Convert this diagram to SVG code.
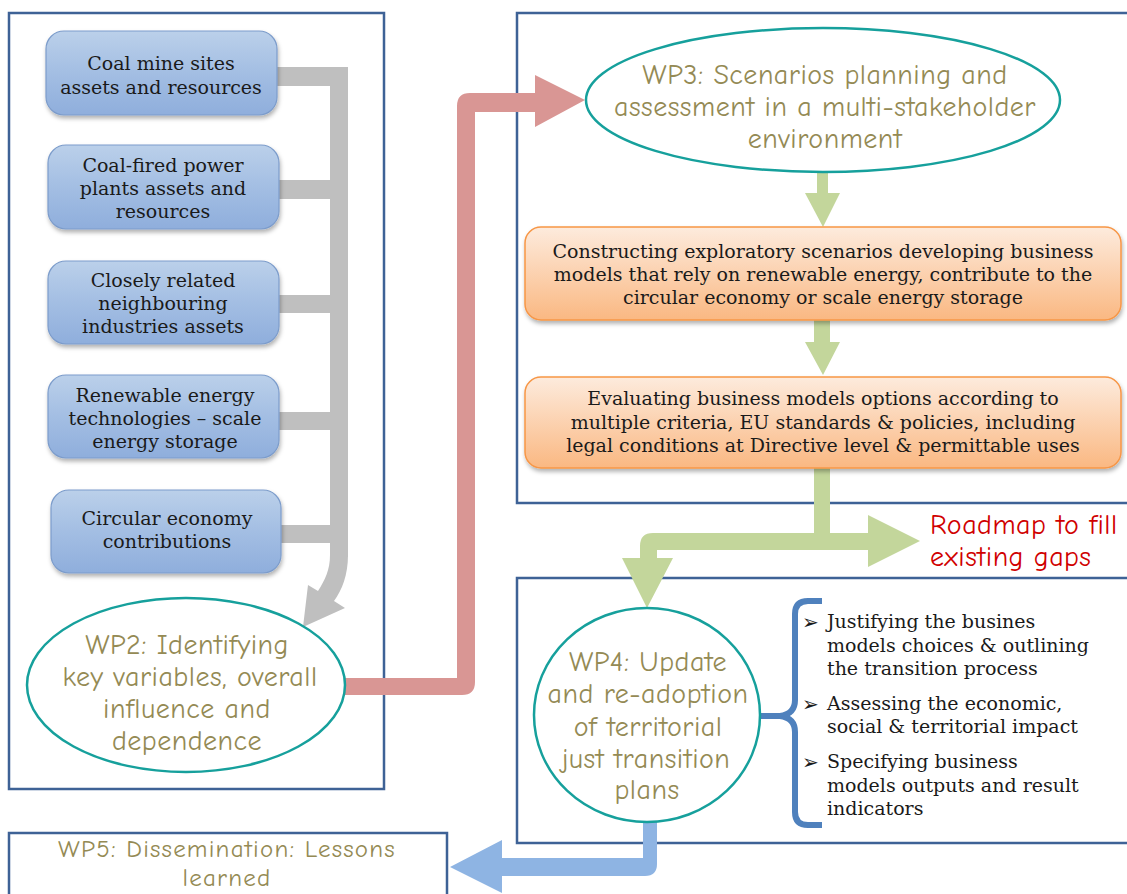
<svg xmlns="http://www.w3.org/2000/svg" width="1127" height="894" viewBox="0 0 1127 894">
<style>
.frame{fill:none;stroke:#3E6296;stroke-width:2.5}
.bbox{fill:url(#gBlue);stroke:#7C9CCB;stroke-width:1.2;filter:url(#sh)}
.obox{fill:url(#gOrange);stroke:#F79646;stroke-width:1.5;filter:url(#sh)}
.ell{fill:#fff;stroke:#16A09C;stroke-width:2.5}
.st{font-family:"DejaVu Serif","Liberation Serif",serif;font-size:19px;fill:#1a1a1a;text-anchor:middle}
.bt{font-family:"DejaVu Serif","Liberation Serif",serif;font-size:19px;fill:#1a1a1a}
.wp{font-family:"Comic Sans MS","Comic Neue","Open Sans",sans-serif;font-size:28px;letter-spacing:0.5px;fill:#948A54;text-anchor:middle}
.wp5{font-family:"Comic Sans MS","Comic Neue","Open Sans",sans-serif;font-size:25px;letter-spacing:1.2px;fill:#948A54;text-anchor:middle}
.rm{font-family:"Comic Sans MS","Comic Neue","Open Sans",sans-serif;font-size:28px;letter-spacing:0.5px;fill:#D00000}
.arr{font-family:"DejaVu Sans",sans-serif;font-size:20px;fill:#1a1a1a}
</style>
<defs>
<linearGradient id="gBlue" x1="0" y1="0" x2="0" y2="1">
<stop offset="0" stop-color="#BBD0EA"/><stop offset="0.5" stop-color="#A3BEE3"/><stop offset="1" stop-color="#8FAEDC"/>
</linearGradient>
<linearGradient id="gOrange" x1="0" y1="0" x2="0" y2="1">
<stop offset="0" stop-color="#FDEBDD"/><stop offset="1" stop-color="#FAB882"/>
</linearGradient>
<filter id="sh" x="-10%" y="-10%" width="120%" height="130%">
<feDropShadow dx="1" dy="3" stdDeviation="2" flood-color="#000" flood-opacity="0.3"/>
</filter>
</defs>

<g id="containers">
<rect class="frame" x="9" y="13" width="375" height="776"/>
<rect class="frame" x="517" y="13" width="620" height="490"/>
<rect class="frame" x="517" y="578" width="620" height="265"/>
</g>

<g id="connectors">
<g id="gray-merge" fill="#BFBFBF">
<rect x="277" y="67" width="71" height="19"/>
<rect x="279" y="180" width="55" height="19"/>
<rect x="279" y="295" width="55" height="18"/>
<rect x="279" y="412" width="55" height="18"/>
<rect x="281" y="525" width="53" height="18"/>
<rect x="330" y="67" width="18" height="490"/>
<path d="M330,555 L348,555 C348,575 342,590 334,601 L345,608 L303,627 L308,585 L318,591 C325,580 330,570 330,555 Z"/>
</g>
<path id="red-arrow" fill="#D99694" d="M345,678 L457,678 L457,106 Q457,93 470,93 L535,93 L535,75 L585,100 L535,127 L535,112 L475,112 L475,682 Q475,695 462,695 L345,695 Z"/>
<path id="green-1" fill="#C3D69B" d="M817,172 L828,172 L828,193 L840,193 L823,227 L805,193 L817,193 Z"/>
<path id="green-2" fill="#C3D69B" d="M814,320 L830,320 L830,342 L840,342 L823,375 L805,342 L814,342 Z"/>
<path id="green-3" fill="#C3D69B" d="M814,468 L830,468 L830,533 L868,533 L868,515 L920,541 L868,567 L868,550 L657,550 L657,558 L673,558 L647,608 L622,558 L640,558 L640,546 Q640,533 653,533 L814,533 Z"/>
<path id="blue-arrow" fill="#8EB4E3" d="M643,820 L657,820 L657,864 Q657,876 645,876 L502,876 L502,893 L450,867 L502,840 L502,858 L643,858 Z"/>
<path id="brace" fill="none" stroke="#4F81BD" stroke-width="6" d="M822,601 L808,601 Q795,601 795,614 L795,700 Q795,714 780,716 L760,716 M780,716 Q795,718 795,732 L795,812 Q795,825 808,825 L822,825"/>
</g>

<g id="n1"><rect class="bbox" x="46" y="31" width="231" height="84" rx="18"/>
<text class="st" x="161" y="70">Coal mine sites</text><text class="st" x="161" y="94">assets and resources</text></g>
<g id="n2"><rect class="bbox" x="48" y="145" width="231" height="84" rx="18"/>
<text class="st" x="163" y="172">Coal-fired power</text><text class="st" x="163" y="195">plants assets and</text><text class="st" x="163" y="218">resources</text></g>
<g id="n3"><rect class="bbox" x="48" y="261" width="231" height="83" rx="18"/>
<text class="st" x="163" y="287">Closely related</text><text class="st" x="163" y="310">neighbouring</text><text class="st" x="163" y="333">industries assets</text></g>
<g id="n4"><rect class="bbox" x="48" y="375" width="231" height="83" rx="18"/>
<text class="st" x="165" y="402">Renewable energy</text><text class="st" x="165" y="425">technologies – scale</text><text class="st" x="165" y="448">energy storage</text></g>
<g id="n5"><rect class="bbox" x="51" y="490" width="230" height="83" rx="18"/>
<text class="st" x="167" y="525">Circular economy</text><text class="st" x="167" y="548">contributions</text></g>

<g id="wp2"><ellipse class="ell" cx="186" cy="685" rx="159" ry="87"/>
<text class="wp" x="187" y="654">WP2: Identifying</text><text class="wp" x="190" y="686">key variables, overall</text><text class="wp" x="187" y="718">influence and</text><text class="wp" x="187" y="750">dependence</text></g>

<g id="wp3"><ellipse class="ell" cx="823" cy="100" rx="237" ry="72"/>
<text class="wp" x="825" y="84">WP3: Scenarios planning and</text><text class="wp" x="825" y="116">assessment in a multi-stakeholder</text><text class="wp" x="825" y="148">environment</text></g>

<g id="o1"><rect class="obox" x="525" y="227" width="596" height="93" rx="16"/>
<text class="st" x="823" y="258">Constructing exploratory scenarios developing business</text>
<text class="st" x="823" y="281">models that rely on renewable energy, contribute to the</text>
<text class="st" x="823" y="304">circular economy or scale energy storage</text></g>

<g id="o2"><rect class="obox" x="525" y="377" width="596" height="91" rx="16"/>
<text class="st" x="823" y="405">Evaluating business models options according to</text>
<text class="st" x="823" y="429">multiple criteria, EU standards &amp; policies, including</text>
<text class="st" x="823" y="452">legal conditions at Directive level &amp; permittable uses</text></g>

<g id="roadmap"><text class="rm" x="930" y="534">Roadmap to fill</text><text class="rm" x="930" y="566">existing gaps</text></g>

<g id="wp4"><ellipse class="ell" cx="647" cy="715" rx="113" ry="107"/>
<text class="wp" x="648" y="671">WP4: Update</text><text class="wp" x="648" y="703">and re-adoption</text><text class="wp" x="648" y="736">of territorial</text><text class="wp" x="646" y="768">just transition</text><text class="wp" x="647" y="799">plans</text></g>

<g id="bullets">
<text class="arr" x="802" y="629">➢</text><text class="bt" x="827" y="628">Justifying the busines</text><text class="bt" x="827" y="652">models choices &amp; outlining</text><text class="bt" x="827" y="675">the transition process</text>
<text class="arr" x="802" y="711">➢</text><text class="bt" x="827" y="710">Assessing the economic,</text><text class="bt" x="827" y="733">social &amp; territorial impact</text>
<text class="arr" x="802" y="769">➢</text><text class="bt" x="827" y="768">Specifying business</text><text class="bt" x="827" y="792">models outputs and result</text><text class="bt" x="827" y="815">indicators</text>
</g>

<g id="wp5"><rect class="frame" x="9" y="833" width="438" height="80"/>
<text class="wp5" x="227" y="857">WP5: Dissemination: Lessons</text><text class="wp5" x="227" y="886">learned</text></g>
</svg>
